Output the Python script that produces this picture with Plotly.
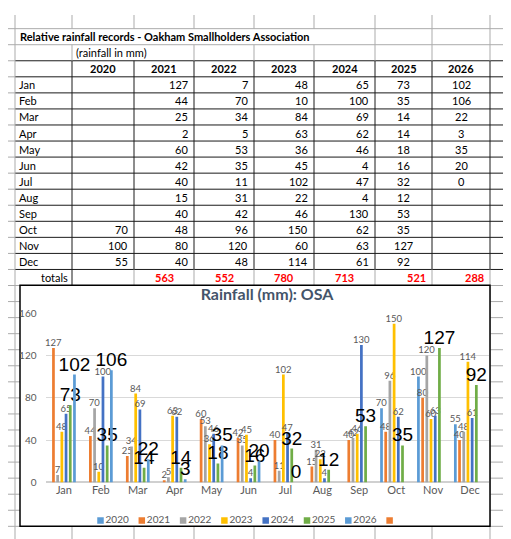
"""
Oakham Smallholders Association rainfall sheet: table on top, grouped bar chart below.
"""

import plotly.graph_objects as go

W, H = 511, 539

# ---- data read from the sheet ----
months = ["Jan", "Feb", "Mar", "Apr", "May", "Jun",
          "Jul", "Aug", "Sep", "Oct", "Nov", "Dec"]
years = ["2020", "2021", "2022", "2023", "2024", "2025", "2026"]

rain_2020 = [None, None, None, None, None, None, None, None, None, 70, 100, 55]
rain_2021 = [127, 44, 25, 2, 60, 42, 40, 15, 40, 48, 80, 40]
rain_2022 = [7, 70, 34, 5, 53, 35, 11, 31, 42, 96, 120, 48]
rain_2023 = [48, 10, 84, 63, 36, 45, 102, 22, 46, 150, 60, 114]
rain_2024 = [65, 100, 69, 62, 46, 4, 47, 4, 130, 62, 63, 61]
rain_2025 = [73, 35, 14, 14, 18, 16, 32, 12, 53, 35, 127, 92]
rain_2026 = [102, 106, 22, 3, 35, 20, 0, None, None, None, None, None]
empty_series = [None] * 12

totals = [None, 563, 552, 780, 713, 521, 288]

series = [rain_2020, rain_2021, rain_2022, rain_2023, rain_2024, rain_2025, rain_2026]
colors = ["#5B9BD5", "#ED7D31", "#A5A5A5", "#FFC000", "#4472C4", "#70AD47", "#5B9BD5", "#ED7D31"]
legend_names = years + [""]

# ---- sheet geometry (pixels) ----
GRID = "#ababab"
INK = "#1a1a1a"
ROW0 = 14.0
ROW_H = 16.45
col_edges = [7, 64, 126, 186, 246, 306, 367, 424, 482]


def px(x):
    return x / W


def py(y):
    return 1 - y / H


def row_line(k):
    return ROW0 + ROW_H * k


def row_mid(k):
    return ROW0 + ROW_H * (k + 0.5)


shapes = []


def line(x0, y0, x1, y1, color, width=1):
    shapes.append(dict(type="line", xref="paper", yref="paper",
                       x0=px(x0), y0=py(y0), x1=px(x1), y1=py(y1),
                       line=dict(color=color, width=width), layer="below"))


# horizontal grid lines
k = 0
while row_line(k) < H:
    y = row_line(k)
    if 2 <= k <= 15:
        line(0, y, 7, y, GRID)
        line(7, y, W, y, INK)
    else:
        line(0, y, W, y, GRID)
    k += 1

# vertical grid lines
line(7, 0, 7, H, GRID)
for e in col_edges[1:]:
    line(e, 0, e, row_line(0), GRID)
    if e >= 367:
        line(e, row_line(0), e, row_line(1), GRID)
    if e != 126:
        line(e, row_line(1), e, row_line(2), GRID)
    line(e, row_line(2), e, row_line(15), INK)
    line(e, row_line(15), e, row_line(16), INK if e == 64 else GRID)
    line(e, row_line(16), e, H, GRID)

# chart area box, covering the sheet
shapes.append(dict(type="rect", xref="paper", yref="paper",
                   x0=px(12), y0=py(524), x1=px(482), y1=py(277),
                   fillcolor="white", line=dict(color="black", width=1.5), layer="below"))

# ---- table text ----
annotations = []
SHEET_FONT = "Lato"


def cell_text(text, x, y, anchor, bold=False, color="black", size=11):
    if bold:
        text = "<b>" + text + "</b>"
    annotations.append(dict(xref="paper", yref="paper", x=px(x), y=py(y),
                            text=text, showarrow=False, xanchor=anchor, yanchor="middle",
                            font=dict(family=SHEET_FONT, size=size, color=color)))


cell_text("Relative rainfall records - Oakham Smallholders Association", 9.5, row_mid(0), "left", bold=True)
cell_text("(rainfall in mm)", 65.5, row_mid(1), "left")

for j, yr in enumerate(years):
    left, right = col_edges[j + 1], col_edges[j + 2]
    cell_text(yr, (left + right) / 2, row_mid(2), "center", bold=True)

for i, m in enumerate(months):
    cell_text(m, 9, row_mid(3 + i), "left")
    for j, vals in enumerate(series):
        v = vals[i]
        if v is None:
            continue
        left, right = col_edges[j + 1], col_edges[j + 2]
        if j >= 5:
            cell_text(str(v), (left + right) / 2, row_mid(3 + i), "center")
        else:
            cell_text(str(v), right - 4, row_mid(3 + i), "right")

cell_text("totals", 61.5, row_mid(15), "right")
for j, t in enumerate(totals):
    if t is None:
        continue
    left, right = col_edges[j + 1], col_edges[j + 2]
    if j >= 5:
        cell_text(str(t), right - 4, row_mid(15), "right", bold=True, color="#ff0000")
    else:
        cell_text(str(t), (left + right) / 2, row_mid(15), "center", bold=True, color="#ff0000")

# ---- chart ----
fig = go.Figure()

for j, (yr, vals) in enumerate(zip(years, series)):
    if yr in ("2025", "2026"):
        tfont = dict(family="Liberation Sans", size=19, color="black")
    else:
        tfont = dict(family=SHEET_FONT, size=9.5, color="#595959")
    fig.add_trace(go.Bar(
        x=months, y=vals, name=yr, marker=dict(color=colors[j], line=dict(width=0)),
        texttemplate="%{y}", textposition="outside", textangle=0,
        constraintext="none", cliponaxis=False, textfont=tfont,
        showlegend=False, hoverinfo="skip",
    ))

fig.add_trace(go.Bar(x=months, y=empty_series, name="", marker=dict(color=colors[7]),
                     showlegend=False, hoverinfo="skip"))

# legend row drawn on an overlay axis in pixel units
leg_x0, leg_step, leg_y = 92.5, 41.3, 518
fig.add_trace(go.Scatter(
    x=[leg_x0 + i * leg_step for i in range(len(legend_names))],
    y=[leg_y] * len(legend_names),
    xaxis="x2", yaxis="y2", mode="markers+text",
    marker=dict(symbol="square", size=6.5, color=colors),
    text=legend_names, textposition="middle right",
    textfont=dict(family=SHEET_FONT, size=10, color="#595959"),
    cliponaxis=False, showlegend=False, hoverinfo="skip",
))

fig.update_layout(
    width=W, height=H,
    margin=dict(l=0, r=0, t=0, b=0),
    paper_bgcolor="white",
    plot_bgcolor="rgba(0,0,0,0)",
    barmode="group",
    bargap=0.09,
    bargroupgap=0.35,
    showlegend=False,
    title=dict(text="<b>Rainfall (mm): OSA</b>", x=px(259), xanchor="center",
               y=py(286.5), yanchor="middle",
               font=dict(family=SHEET_FONT, size=16, color="#44546A")),
    xaxis=dict(domain=[px(37.5), px(480.5)], type="category", showgrid=False,
               ticks="", showline=False, zeroline=False,
               tickfont=dict(family=SHEET_FONT, size=11, color="#595959")),
    yaxis=dict(domain=[py(479), py(305.5)], range=[0, 160], dtick=40,
               gridcolor="#d9d9d9", gridwidth=1, zeroline=True, zerolinecolor="#d0d0d0",
               showline=False, ticks="", ticklabelstandoff=8,
               tickfont=dict(family=SHEET_FONT, size=10, color="#595959")),
    xaxis2=dict(domain=[0, 1], range=[0, W], visible=False, anchor="y2", fixedrange=True),
    yaxis2=dict(domain=[0, 1], range=[H, 0], visible=False, anchor="x2", fixedrange=True),
    shapes=shapes,
    annotations=annotations,
)

fig.write_html("out.html")
